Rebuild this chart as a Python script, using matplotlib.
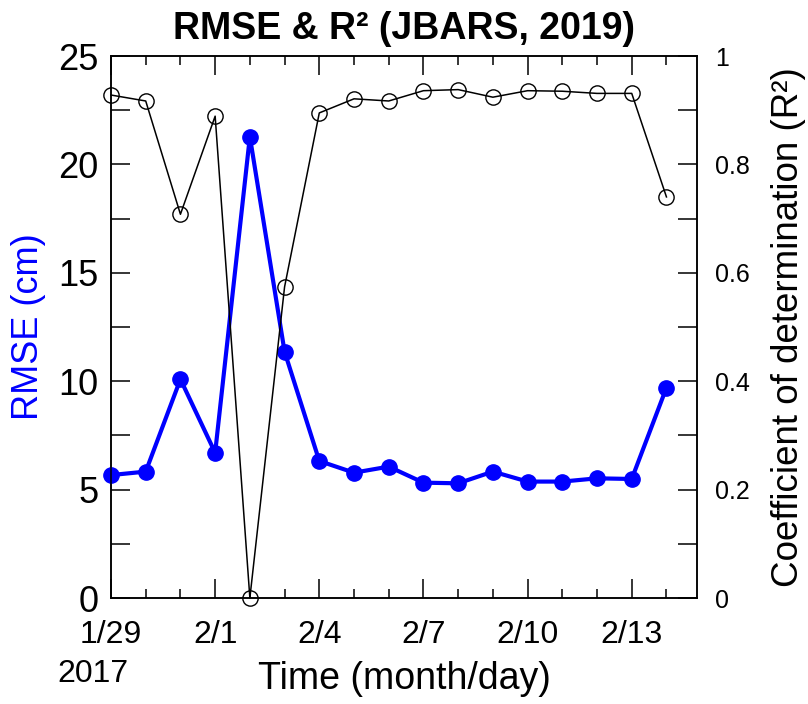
import matplotlib
matplotlib.use("Agg")
import matplotlib.pyplot as plt
import matplotlib.dates as mdates
from matplotlib.ticker import FixedLocator, MultipleLocator, FuncFormatter
import pandas as pd

plt.rcParams['font.family'] = ['Liberation Sans', 'DejaVu Sans']

dates = ["2017-01-29", "2017-01-30", "2017-01-31", "2017-02-01", "2017-02-02",
         "2017-02-03", "2017-02-04", "2017-02-05", "2017-02-06", "2017-02-07",
         "2017-02-08", "2017-02-09", "2017-02-10", "2017-02-11", "2017-02-12",
         "2017-02-13", "2017-02-14"]
rmse = [5.67, 5.83, 10.09, 6.70, 21.28, 11.36, 6.32, 5.78, 6.06, 5.32,
        5.29, 5.83, 5.37, 5.37, 5.52, 5.49, 9.70]
r2 = [0.928, 0.917, 0.708, 0.889, 0.0, 0.574, 0.895, 0.921, 0.917, 0.936,
      0.938, 0.924, 0.936, 0.935, 0.931, 0.931, 0.740]
tick_dates = ["2017-01-29", "2017-02-01", "2017-02-04", "2017-02-07",
              "2017-02-10", "2017-02-13"]
tick_labels = ["1/29", "2/1", "2/4", "2/7", "2/10", "2/13"]
left_ticks = [0, 5, 10, 15, 20, 25]
right_ticks = [0, 0.2, 0.4, 0.6, 0.8, 1.0]

x = mdates.date2num(pd.to_datetime(dates))
xt = mdates.date2num(pd.to_datetime(tick_dates))

fig = plt.figure(figsize=(8.08, 7.04), dpi=100)
ax = fig.add_axes([111/808, 1-598/704, (697-111)/808, (598-56)/704])
ax2 = ax.twinx()

ax.plot(x, rmse, color='#0000ff', lw=3.0, marker='o', ms=11, mfc='#0000ff',
        mec='#0000ff', zorder=3, clip_on=False)
ax2.plot(x, r2, color='black', lw=1.1, marker='o', ms=11, mfc='none',
         mec='black', mew=1.0, zorder=3, clip_on=False)

ax.set_xlim(x[0], x[-1] + 0.88)
ax.set_ylim(0, 25)
ax2.set_ylim(0, 1)

ax.xaxis.set_major_locator(FixedLocator(xt))
ax.set_xticklabels(tick_labels)
ax.xaxis.set_minor_locator(FixedLocator(x))
ax.yaxis.set_major_locator(FixedLocator(left_ticks))
ax.yaxis.set_minor_locator(MultipleLocator(2.5))
ax2.yaxis.set_major_locator(FixedLocator(right_ticks))
ax2.yaxis.set_minor_locator(MultipleLocator(0.1))
ax2.yaxis.set_major_formatter(FuncFormatter(lambda v, p: f"{v:g}"))

ax.tick_params(axis='x', which='major', direction='in', length=13.5, width=1.1,
               top=True, labelsize=23, pad=16)
ax.tick_params(axis='x', which='minor', direction='in', length=6.5, width=1.1, top=True)
ax.tick_params(axis='y', which='both', direction='in', length=13.5, width=1.1,
               right=False, labelsize=26, pad=9)
ax2.tick_params(axis='y', which='both', direction='in', length=14, width=1.1,
                labelsize=18, pad=13)
for a in (ax, ax2):
    for s in a.spines.values():
        s.set_linewidth(1.1)

ax.set_ylabel("RMSE (cm)", color='#0000ff', fontsize=26, labelpad=9)
ax2.set_ylabel("Coefficient of determination (R²)", fontsize=26.5, labelpad=15)
ax.set_xlabel("Time (month/day)", fontsize=27, labelpad=8)
ax.set_title("RMSE & R² (JBARS, 2019)", fontsize=27, fontweight='bold', pad=12)
fig.text(93/808, 1-674/704, "2017", fontsize=23, ha='center', va='center')

fig.savefig("out.png", dpi=100)
